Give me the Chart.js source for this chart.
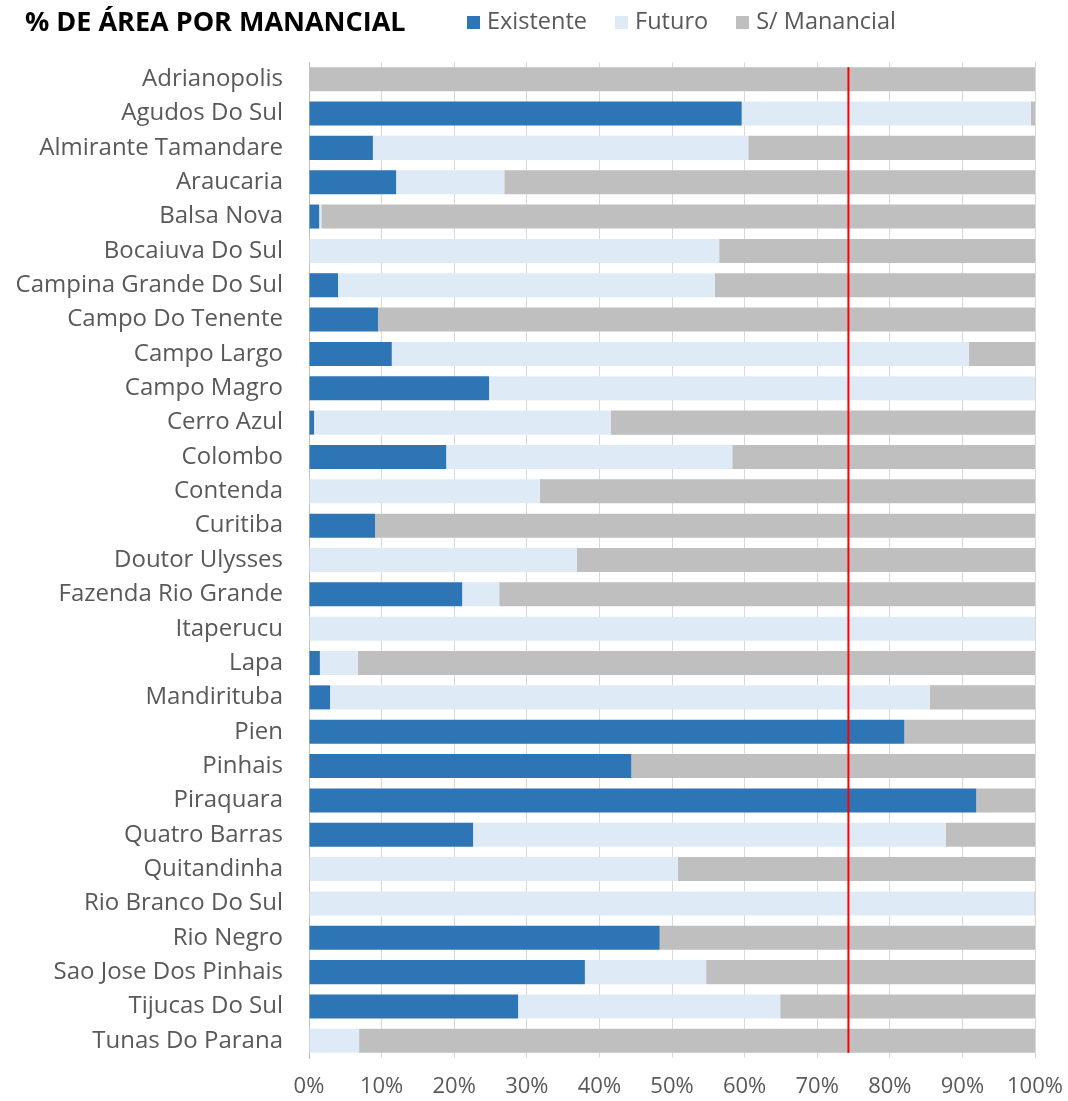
<!DOCTYPE html>
<html>
<head>
<meta charset="utf-8">
<script src="https://cdn.jsdelivr.net/npm/chart.js@4.4.1/dist/chart.umd.min.js"></script>
<style>
    body { margin: 0; background: #fff; }
    #wrap { position: relative; width: 1068px; height: 1101px; }
    #title { position: absolute; left: 25px; top: 2px; font: bold 27px 'Open Sans', sans-serif; color: #000; white-space: nowrap; }
    #legend { position: absolute; left: 467px; top: 4px; font: 23.5px 'Open Sans', sans-serif; color: #595959; white-space: nowrap; }
    #legend span.item { margin-right: 28px; }
    #legend span.box { display: inline-block; width: 13px; height: 13px; margin-right: 7px; }
</style>
</head>
<body>
<div id="wrap">
    <canvas id="myChart" width="1068" height="1101"></canvas>
    <div id="title">% DE ÁREA POR MANANCIAL</div>
    <div id="legend"></div>
</div>
<script>
let municipios = ['Adrianopolis', 'Agudos Do Sul', 'Almirante Tamandare', 'Araucaria', 'Balsa Nova',
    'Bocaiuva Do Sul', 'Campina Grande Do Sul', 'Campo Do Tenente', 'Campo Largo', 'Campo Magro',
    'Cerro Azul', 'Colombo', 'Contenda', 'Curitiba', 'Doutor Ulysses', 'Fazenda Rio Grande',
    'Itaperucu', 'Lapa', 'Mandirituba', 'Pien', 'Pinhais', 'Piraquara', 'Quatro Barras',
    'Quitandinha', 'Rio Branco Do Sul', 'Rio Negro', 'Sao Jose Dos Pinhais', 'Tijucas Do Sul',
    'Tunas Do Parana'];
let existente = [0, 59.6, 8.8, 12.0, 1.4, 0, 4.0, 9.5, 11.4, 24.8, 0.7, 18.9, 0, 9.1, 0, 21.1,
    0, 1.5, 2.9, 82.0, 44.4, 91.9, 22.6, 0, 0, 48.3, 38.0, 28.8, 0];
let futuro = [0, 39.8, 51.7, 14.9, 0.3, 56.5, 51.9, 0, 79.5, 75.2, 40.9, 39.4, 31.8, 0, 36.9, 5.1,
    100, 5.2, 82.6, 0, 0, 0, 65.1, 50.8, 99.9, 0, 16.7, 36.1, 6.9];
let semManancial = [100, 0.6, 39.5, 73.1, 98.3, 43.5, 44.1, 90.5, 9.1, 0, 58.4, 41.7, 68.2, 90.9,
    63.1, 73.8, 0, 93.3, 14.5, 18.0, 55.6, 8.1, 12.3, 49.2, 0.1, 51.7, 45.3, 35.1, 93.1];
let xTicks = [0, 10, 20, 30, 40, 50, 60, 70, 80, 90, 100];
let linhaMeta = 74.3;

let cores = ['#2e75b6', '#deebf7', '#bfbfbf'];
let nomes = ['Existente', 'Futuro', 'S/ Manancial'];
let series = [existente, futuro, semManancial];

/* red reference line drawn through the x scale */
let redLine = {
    id: 'redLine',
    afterDatasetsDraw(chart) {
        let ctx = chart.ctx;
        let x = chart.scales.x.getPixelForValue(linhaMeta);
        let meta = chart.getDatasetMeta(0).data;
        let first = meta[0], last = meta[meta.length - 1];
        ctx.save();
        ctx.strokeStyle = '#ff0000';
        ctx.lineWidth = 2;
        ctx.beginPath();
        ctx.moveTo(x, first.y - first.height / 2);
        ctx.lineTo(x, last.y + last.height / 2);
        ctx.stroke();
        ctx.restore();
    }
};

let datasets = series.map((s, i) => ({
    label: nomes[i],
    data: s,
    backgroundColor: cores[i],
    borderWidth: 0,
    barPercentage: 0.7,
    categoryPercentage: 1
}));

new Chart(document.getElementById('myChart'), {
    type: 'bar',
    data: { labels: municipios, datasets: datasets },
    plugins: [redLine],
    options: {
        indexAxis: 'y',
        responsive: false,
        animation: false,
        layout: { padding: { top: 62, right: 33, bottom: 0, left: 0 } },
        plugins: { legend: { display: false }, tooltip: { enabled: false } },
        scales: {
            x: {
                stacked: true,
                min: 0,
                max: 100,
                afterBuildTicks: (scale) => { scale.ticks = xTicks.map(v => ({ value: v })); },
                afterFit: (scale) => {
                    scale.height = 43;
                    scale.paddingLeft = 0;
                    scale.paddingRight = 0;
                },
                ticks: {
                    callback: (v) => v + '%',
                    color: '#595959',
                    font: { family: 'Open Sans', size: 22 },
                    padding: 16
                },
                grid: { color: '#d9d9d9', drawTicks: false },
                border: { display: false }
            },
            y: {
                stacked: true,
                afterFit: (scale) => { scale.width = 309; },
                ticks: {
                    color: '#595959',
                    font: { family: 'Open Sans', size: 24 },
                    padding: 18
                },
                grid: { display: false },
                border: { color: '#bfbfbf', width: 1 }
            }
        }
    }
});

/* html legend next to the title */
let legend = document.querySelector('#legend');
nomes.forEach((n, i) => {
    let item = document.createElement('span');
    item.className = 'item';
    item.innerHTML = `<span class="box" style="background:${cores[i]}"></span>${n}`;
    legend.appendChild(item);
});
</script>
</body>
</html>
